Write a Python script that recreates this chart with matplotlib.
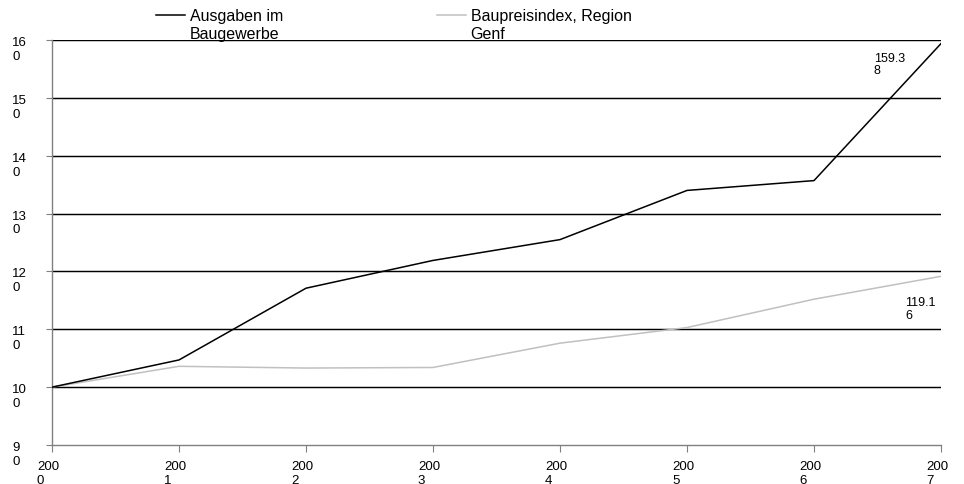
import matplotlib
matplotlib.use("Agg")
import matplotlib.pyplot as plt
import matplotlib.transforms as mtransforms
from matplotlib.legend_handler import HandlerLine2D

plt.rcParams['font.family'] = ['Liberation Sans', 'DejaVu Sans']

years = [2000, 2001, 2002, 2003, 2004, 2005, 2006, 2007]
ausgaben = [100, 104.7, 117.1, 121.9, 125.5, 134.0, 135.7, 159.38]
baupreis = [100, 103.6, 103.3, 103.4, 107.6, 110.3, 115.2, 119.16]
series_names = ["Ausgaben im\nBaugewerbe", "Baupreisindex, Region\nGenf"]
y_ticks = [90, 100, 110, 120, 130, 140, 150, 160]


def wrap_last(s):
    # narrow category box: the last character drops to a new line
    return s[:-1] + "\n" + s[-1]


class TopLineHandler(HandlerLine2D):
    """Legend line drawn level with the first line of a two-line label."""
    def __init__(self, shift, **kw):
        super().__init__(**kw)
        self.shift = shift

    def create_artists(self, legend, orig_handle, xdescent, ydescent,
                       width, height, fontsize, trans):
        arts = super().create_artists(legend, orig_handle, xdescent, ydescent,
                                      width, height, fontsize, trans)
        for a in arts:
            a.set_ydata([y + self.shift for y in a.get_ydata()])
        return arts


fig = plt.figure(figsize=(9.64, 4.85), dpi=100)
ax = fig.add_axes([52 / 964, 1 - 446 / 485, (941 - 52) / 964, (446 - 41) / 485])

ax.set_xlim(years[0], years[-1])
ax.set_ylim(90, 160)

for v in y_ticks[1:]:
    ax.axhline(v, color='black', lw=1.05, zorder=1)

l1, = ax.plot(years, ausgaben, color='black', lw=1.1, zorder=3)
l2, = ax.plot(years, baupreis, color='#c0c0c0', lw=1.1, zorder=2)

for spine in ['top', 'right']:
    ax.spines[spine].set_visible(False)
for spine in ['left', 'bottom']:
    ax.spines[spine].set_color('#808080')
    ax.spines[spine].set_linewidth(1.0)

ax.set_yticks(y_ticks)
ax.set_yticklabels([wrap_last(str(v)) for v in y_ticks], fontsize=9.5,
                   ha='left', va='top', linespacing=1.2)
ax.set_xticks(years)
ax.set_xticklabels([wrap_last(str(y)) for y in years], fontsize=9.5,
                   ha='center', multialignment='left', linespacing=1.15)
ax.tick_params(axis='y', length=4, color='#808080', pad=0)
ax.tick_params(axis='x', length=5, color='#808080', pad=6)

yoff = mtransforms.ScaledTranslation(-34 / 100, 4 / 100, fig.dpi_scale_trans)
for lab in ax.get_yticklabels():
    lab.set_transform(lab.get_transform() + yoff)
xoff = mtransforms.ScaledTranslation(-4 / 100, 0, fig.dpi_scale_trans)
for lab in ax.get_xticklabels():
    lab.set_transform(lab.get_transform() + xoff)


def fmt(v):
    s = f"{v:.2f}"
    return s[:5] + "\n" + s[5:]


ax.annotate(fmt(ausgaben[-1]), (years[-1], ausgaben[-1]), xytext=(-67, -8),
            textcoords='offset pixels', ha='left', va='top', fontsize=9,
            linespacing=1.0)
ax.annotate(fmt(baupreis[-1]), (years[-1], baupreis[-1]), xytext=(-36, -20),
            textcoords='offset pixels', ha='left', va='top', fontsize=9,
            linespacing=1.05)

handler = TopLineHandler(shift=7.0)
leg = fig.legend([l1, l2], series_names, ncol=2, frameon=False, fontsize=11.5,
                 loc='upper left', bbox_to_anchor=(153 / 964, 1 - 6 / 485),
                 handlelength=1.8, handletextpad=0.3, columnspacing=9.65,
                 borderaxespad=0.0, borderpad=0.2,
                 handler_map={l1: handler, l2: handler})
for t in leg.get_texts():
    t.set_linespacing(1.2)

fig.savefig("out.png", dpi=100)
